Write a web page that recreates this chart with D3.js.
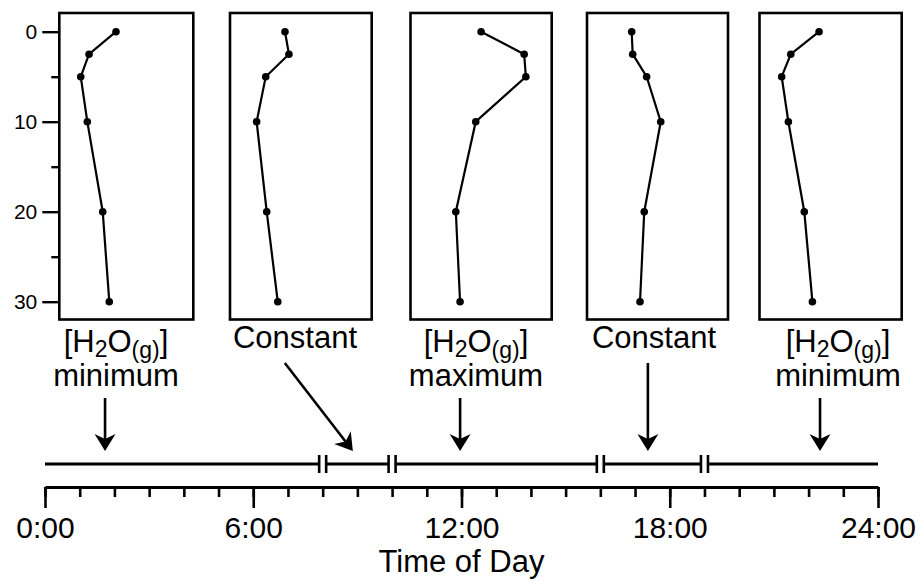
<!DOCTYPE html>
<html>
<head>
<meta charset="utf-8">
<script src="https://cdn.jsdelivr.net/npm/d3@7"></script>
<style>
body { margin: 0; background: #fff; }
svg text { font-family: "Liberation Sans", Arial, Helvetica, sans-serif; fill: #000; }
</style>
</head>
<body>
<div id="chart"></div>
<script>
const width = 922;
const height = 581;

// depth of each sample, shared by all five profiles
const depths = [0, 2.5, 5, 10, 20, 30];
// water vapour, relative units (0-100 across a panel)
const profileMin1   = [42.3, 22.2, 16.0, 20.9, 32.4, 37.3];
const profileConst1 = [38.8, 41.6, 25.2, 18.8, 25.9, 33.7];
const profileMax    = [50.0, 80.5, 81.7, 46.2, 32.1, 35.1];
const profileConst2 = [31.7, 32.4, 42.3, 52.3, 40.6, 37.6];
const profileMin2   = [41.9, 22.0, 15.6, 20.3, 31.5, 37.2];
const profiles = [profileMin1, profileConst1, profileMax, profileConst2, profileMin2];

const depthTicks = [0, 10, 20, 30];
const depthMinorTicks = [5, 15, 25];

// label under each panel: true = [H2O(g)] + word, false = plain word
const labelIsH2O = [true, false, true, false, true];
const labelTop = ["", "Constant", "", "Constant", ""];
const labelBottom = ["minimum", "", "maximum", "", "minimum"];

// time of day (hours)
const breakHours = [8, 10, 16, 19];
const arrowStartHours = [1.73, 6.91, 11.96, 17.37, 22.33];
const arrowTipHours = [1.73, 8.87, 11.96, 17.37, 22.33];
const majorHours = [0, 6, 12, 18, 24];
const hourLabels = ["0:00", "6:00", "12:00", "18:00", "24:00"];

// layout
const panelLeft = [59.3, 230, 410.5, 587, 759.5];
const panelRight = [193.3, 371.7, 551.7, 728, 901.7];
const panelTop = 13, panelBottom = 319.5;
const labelX = [116, 295, 476, 654, 838];
const timelineY = 464, axisY = 487;

const svg = d3.select("#chart").append("svg")
    .attr("width", width).attr("height", height);

const depthScale = d3.scaleLinear().domain([0, 30]).range([31.7, 301.7]);
const timeScale = d3.scaleLinear().domain([0, 24]).range([45, 878]);

// profile panels
profiles.forEach(function (vals, i) {
    const xs = d3.scaleLinear().domain([0, 100]).range([panelLeft[i], panelRight[i]]);
    const g = svg.append("g");
    g.append("rect")
        .attr("x", panelLeft[i]).attr("y", panelTop)
        .attr("width", panelRight[i] - panelLeft[i])
        .attr("height", panelBottom - panelTop)
        .attr("fill", "none").attr("stroke", "#000").attr("stroke-width", 2.6);
    const pts = vals.map((v, k) => ({ v: v, d: depths[k] }));
    const line = d3.line().x(d => xs(d.v)).y(d => depthScale(d.d));
    g.append("path").attr("d", line(pts))
        .attr("fill", "none").attr("stroke", "#000").attr("stroke-width", 2.2);
    g.selectAll("circle").data(pts).enter().append("circle")
        .attr("cx", d => xs(d.v)).attr("cy", d => depthScale(d.d))
        .attr("r", 3.8).attr("fill", "#000");
});

// depth axis on the first panel
const yAxisMajor = svg.append("g")
    .attr("transform", "translate(" + panelLeft[0] + ",0)")
    .call(d3.axisLeft(depthScale).tickValues(depthTicks).tickSize(17).tickPadding(5));
const yAxisMinor = svg.append("g")
    .attr("transform", "translate(" + panelLeft[0] + ",0)")
    .call(d3.axisLeft(depthScale).tickValues(depthMinorTicks).tickSize(8).tickFormat(""));
[yAxisMajor, yAxisMinor].forEach(function (a) {
    a.select(".domain").remove();
    a.selectAll(".tick line").attr("stroke", "#000").attr("stroke-width", 2.4);
});
yAxisMajor.selectAll(".tick text").attr("font-size", 21).style("font-family", null);

// labels below panels
labelIsH2O.forEach(function (isH2O, i) {
    if (isH2O) {
        const t = svg.append("text").attr("x", labelX[i]).attr("y", 352)
            .attr("text-anchor", "middle").attr("font-size", 31);
        t.append("tspan").text("[H");
        t.append("tspan").attr("font-size", 23).attr("dy", 5).text("2");
        t.append("tspan").attr("dy", -5).text("O");
        t.append("tspan").attr("font-size", 23).attr("dy", 6).text("(g)");
        t.append("tspan").attr("dy", -6).text("]");
        svg.append("text").attr("x", labelX[i]).attr("y", 386)
            .attr("text-anchor", "middle").attr("font-size", 31).text(labelBottom[i]);
    } else {
        svg.append("text").attr("x", labelX[i]).attr("y", 348)
            .attr("text-anchor", "middle").attr("font-size", 31).text(labelTop[i]);
    }
});

// arrows from labels to the time line
labelIsH2O.forEach(function (isH2O, i) {
    const x0 = timeScale(arrowStartHours[i]), y0 = isH2O ? 398 : 363;
    const x1 = timeScale(arrowTipHours[i]), y1 = 451;
    const len = Math.hypot(x1 - x0, y1 - y0);
    const ux = (x1 - x0) / len, uy = (y1 - y0) / len;
    const px = -uy, py = ux;
    const headLen = 17, headHalf = 10.5, notch = 12;
    svg.append("line")
        .attr("x1", x0).attr("y1", y0)
        .attr("x2", x1 - ux * notch).attr("y2", y1 - uy * notch)
        .attr("stroke", "#000").attr("stroke-width", 2.6);
    const head = [
        [x1, y1],
        [x1 - ux * headLen + px * headHalf, y1 - uy * headLen + py * headHalf],
        [x1 - ux * notch, y1 - uy * notch],
        [x1 - ux * headLen - px * headHalf, y1 - uy * headLen - py * headHalf]
    ];
    svg.append("path").attr("d", "M" + head.join("L") + "Z").attr("fill", "#000");
});

// broken time line
const segEdges = [0].concat(breakHours, [24]);
for (let k = 0; k < segEdges.length - 1; k++) {
    const a = timeScale(segEdges[k]) + (k > 0 ? 3.5 : 0);
    const b = timeScale(segEdges[k + 1]) - (k < segEdges.length - 2 ? 3.5 : 0);
    svg.append("line").attr("x1", a).attr("x2", b)
        .attr("y1", timelineY).attr("y2", timelineY)
        .attr("stroke", "#000").attr("stroke-width", 3);
}
breakHours.forEach(function (h) {
    [-3.5, 3.5].forEach(function (off) {
        svg.append("line")
            .attr("x1", timeScale(h) + off).attr("x2", timeScale(h) + off)
            .attr("y1", timelineY - 9).attr("y2", timelineY + 9)
            .attr("stroke", "#000").attr("stroke-width", 2.6);
    });
});

// time of day axis
const xMinor = svg.append("g")
    .attr("transform", "translate(0," + axisY + ")")
    .call(d3.axisBottom(timeScale).ticks(24).tickSize(10).tickFormat(""));
xMinor.select(".domain").remove();
const xMajor = svg.append("g")
    .attr("transform", "translate(0," + axisY + ")")
    .call(d3.axisBottom(timeScale).tickValues(majorHours).tickSize(21).tickSizeOuter(0)
        .tickPadding(9).tickFormat((d, i) => hourLabels[i]));
xMajor.select(".domain").attr("stroke", "#000").attr("stroke-width", 3);
[xMinor, xMajor].forEach(function (a) {
    a.selectAll(".tick line").attr("stroke", "#000").attr("stroke-width", 2.6);
});
xMajor.selectAll(".tick text").attr("font-size", 30).style("font-family", null);

svg.append("text")
    .attr("x", timeScale(12)).attr("y", 572)
    .attr("text-anchor", "middle").attr("font-size", 31)
    .text("Time of Day");
</script>
</body>
</html>
